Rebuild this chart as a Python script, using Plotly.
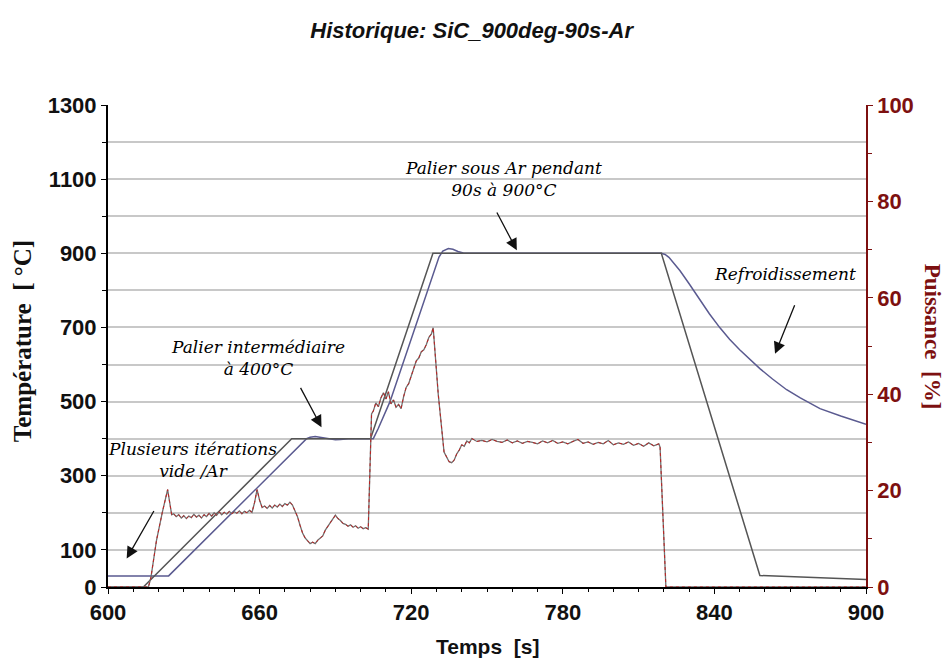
import plotly.graph_objects as go

# ---------------- data ----------------
# Temperature set-point [°C]
t_set = [600, 614, 672.7, 703.9, 728.6, 819.0, 858.0, 900]
T_set = [0, 0, 400, 400, 900, 900, 31, 20]

# Measured temperature [°C]
t_meas = [600, 624, 678.6, 680, 682, 684, 687, 690, 692, 695, 705, 707, 711.6, 716.5,
          721.5, 726.5, 729.5, 731, 732.5, 734.7, 736.5, 738.5, 740.6, 743, 819,
          820.5, 822, 824, 826.4, 830, 834, 838, 842.2, 846, 850, 854, 858, 863, 868.6,
          874, 881.8, 890, 900]
T_meas = [30, 30, 400, 404, 406, 404, 401, 397, 398, 400, 400, 428, 500, 600,
          700, 800, 860, 890, 906, 913, 911, 905, 901, 900, 900,
          897, 889, 874, 853, 818, 777, 737, 699, 668, 640, 614, 589, 561, 532,
          510, 481, 461, 439]

# Power [%]
t_pow = [600, 616, 617, 619.2, 621.5, 623.6, 625.2,
         626, 627, 628, 629, 630, 631, 632, 633, 634, 635, 636, 637, 638, 639, 640,
         641, 642, 643, 644, 645, 646, 647, 648, 649, 650, 651, 652, 653, 654, 655,
         656, 657, 658, 659, 660, 661, 662, 663, 664, 665, 666, 667, 668, 669, 670,
         671, 672, 673, 674, 675, 676, 677, 678, 679, 680, 681, 682, 683, 684, 685,
         686, 687, 688, 689, 690, 691, 692, 693, 694, 695, 696, 697, 698, 699, 700,
         701, 702, 703, 703.8, 704.3, 705, 706, 707, 708, 709, 710, 711, 712, 713,
         714, 715, 716, 717, 718, 719, 720, 721, 722, 723, 724, 725, 726, 727, 728,
         728.7, 730.7, 733, 734, 735, 736, 737, 738, 739, 740, 741, 742, 743, 744,
         745, 746,
         748, 750, 752, 754, 756, 758, 760, 762, 764, 766, 768, 770, 772, 774, 776,
         778, 780, 782, 784, 786, 788, 790, 792, 794, 796, 798, 800, 802, 804, 806,
         808, 810, 812, 814, 816, 818, 818.5, 820.8, 900]
P_pow = [0, 0, 2.0, 9.7, 15.5, 20.2, 15.0,
         15.2, 14.6, 15.0, 14.3, 14.8, 14.2, 14.7, 14.4, 15.1, 14.5, 14.9, 14.3, 15.0, 14.6, 15.3,
         14.7, 15.4, 14.9, 15.6, 15.0, 15.5, 15.1, 15.7, 15.2, 15.6, 15.3, 15.8, 15.2, 15.7, 15.4,
         15.9, 15.5, 17.5, 20.2, 18.0, 16.5, 16.8, 16.3, 16.9, 16.4, 17.0, 16.6, 17.2, 16.7, 17.3,
         17.0, 17.6, 17.0, 15.8, 14.6, 12.8, 11.2, 10.2, 9.5, 9.0, 9.3, 9.0, 9.7, 10.1, 10.6,
         11.8, 12.6, 13.4, 14.2, 14.9, 14.2, 13.8, 13.2, 13.0, 12.6, 12.9, 12.4, 12.7, 12.2, 12.5,
         12.1, 12.3, 12.0, 25.0, 35.9, 36.5, 38.2, 37.4, 39.2, 40.3, 39.0, 40.5, 38.0, 38.8,
         37.3, 37.9, 37.0, 39.5, 41.4, 42.2, 43.8, 45.6, 46.9, 47.5, 48.8, 49.2, 50.3, 51.8, 52.5,
         53.8, 40.0, 28.0, 27.0, 26.0, 25.8, 26.3, 27.6, 28.4, 29.5, 29.2, 30.3, 29.9, 30.8,
         30.5, 30.2,
         30.4, 30.1, 30.6, 30.2, 30.0, 30.5, 29.9, 30.3, 29.8, 30.2, 30.0, 29.7, 30.3, 29.9, 30.4,
         29.8, 30.1, 29.7, 30.2, 30.6, 29.8, 30.1, 29.6, 30.0, 29.7, 30.4, 29.5, 29.9, 29.6, 30.1,
         29.4, 29.8, 29.2, 29.9, 29.3, 29.7, 29.0, 0, 0]

x_ticks = [600, 660, 720, 780, 840, 900]
y_ticks = [0, 100, 300, 500, 700, 900, 1100, 1300]
y2_ticks = [0, 20, 40, 60, 80, 100]

MAROON = "#7d1010"
SANS = "Liberation Sans, Arial, sans-serif"
SERIF = "Liberation Serif, Times New Roman, serif"
ASERIF = "DejaVu Serif, Liberation Serif, serif"

fig = go.Figure()
fig.add_trace(go.Scatter(x=t_pow, y=P_pow, yaxis="y2", mode="lines",
                         line=dict(color="#707070", width=1.3), hoverinfo="skip"))
fig.add_trace(go.Scatter(x=t_pow, y=P_pow, yaxis="y2", mode="lines",
                         line=dict(color="#c02020", width=1, dash="dot"), hoverinfo="skip"))
fig.add_trace(go.Scatter(x=t_meas, y=T_meas, mode="lines",
                         line=dict(color="#5a5a90", width=1.5)))
fig.add_trace(go.Scatter(x=t_set, y=T_set, mode="lines",
                         line=dict(color="#555555", width=1.5)))

annot_font = dict(family=ASERIF, size=17, color="black", style="italic")
arrow_kw = dict(xref="x", yref="y", axref="x", ayref="y", text="", showarrow=True,
                arrowhead=2, arrowsize=1.8, arrowwidth=1.3, arrowcolor="#111")
fig.update_layout(
    width=949, height=661,
    paper_bgcolor="white", plot_bgcolor="white",
    margin=dict(l=108, r=83, t=105, b=74),
    showlegend=False,
    title=dict(text="Historique: SiC_900deg-90s-Ar", x=0.497, xref="container",
               y=1 - 30 / 661, yref="container", yanchor="middle", xanchor="center",
               font=dict(family=SANS, size=22, color="#111", weight="bold", style="italic")),
    xaxis=dict(range=[600, 900], tickvals=x_ticks, showgrid=False, zeroline=False,
               showline=True, linecolor="black", linewidth=2, automargin=False,
               ticks="outside", ticklen=5, tickcolor="black",
               minor=dict(dtick=10, tick0=600, ticks="outside", ticklen=3, tickcolor="black"),
               tickfont=dict(family=SANS, size=22, color="#111", weight="bold")),
    yaxis=dict(range=[0, 1300], tickvals=y_ticks, showgrid=True, gridcolor="#c8c8c8",
               gridwidth=1.5, zeroline=False, showline=True, linecolor="black", linewidth=2,
               ticks="outside", ticklen=5, tickcolor="black", automargin=False,
               minor=dict(dtick=100, tick0=0, ticks="outside", ticklen=4, tickcolor="black",
                          showgrid=True, gridcolor="#c8c8c8", gridwidth=1.5),
               tickfont=dict(family=SANS, size=22, color="#111", weight="bold")),
    yaxis2=dict(range=[0, 100], overlaying="y", side="right", tickvals=y2_ticks,
                showgrid=False, zeroline=False, showline=True, linecolor=MAROON, linewidth=1.5,
                ticks="outside", ticklen=5, tickcolor=MAROON, automargin=False,
                minor=dict(dtick=10, tick0=0, ticks="outside", ticklen=4, tickcolor=MAROON),
                tickfont=dict(family=SANS, size=22, color=MAROON, weight="bold")),
    annotations=[
        dict(text="Température  [ °C]", xref="paper", yref="paper", x=-0.1135, y=0.51,
             textangle=-90, showarrow=False, xanchor="center", yanchor="middle",
             font=dict(family=SERIF, size=25, color="#111", weight="bold")),
        dict(text="Puissance  [%]", xref="paper", yref="paper", x=1.088, y=0.52,
             textangle=90, showarrow=False, xanchor="center", yanchor="middle",
             font=dict(family=SERIF, size=23, color=MAROON, weight="bold")),
        dict(text="Temps  [s]", xref="paper", yref="paper", x=0.5, y=-0.124,
             showarrow=False, xanchor="center", yanchor="middle",
             font=dict(family=SANS, size=21, color="#111", weight="bold")),
        dict(text="Plusieurs itérations<br>vide /Ar", x=633.5, y=342, xref="x", yref="y",
             showarrow=False, font=annot_font, align="center"),
        dict(text="Palier intermédiaire<br>à 400°C", x=659.3, y=617, xref="x", yref="y",
             showarrow=False, font=annot_font, align="center"),
        dict(text="Palier sous Ar pendant<br>90s à 900°C", x=756.5, y=1100, xref="x", yref="y",
             showarrow=False, font=annot_font, align="center"),
        dict(text="Refroidissement", x=868, y=845, xref="x", yref="y",
             showarrow=False, font=annot_font),
        dict(x=607.4, y=77, ax=618.5, ay=209, **arrow_kw),
        dict(x=684.5, y=431, ax=675.9, ay=541, **arrow_kw),
        dict(x=761.8, y=908, ax=753.6, ay=1014, **arrow_kw),
        dict(x=864, y=629, ax=872, ay=764, **arrow_kw),
    ],
)

fig.write_html("out.html", config={"displayModeBar": False},
               post_script="document.body.style.margin='0px';")
